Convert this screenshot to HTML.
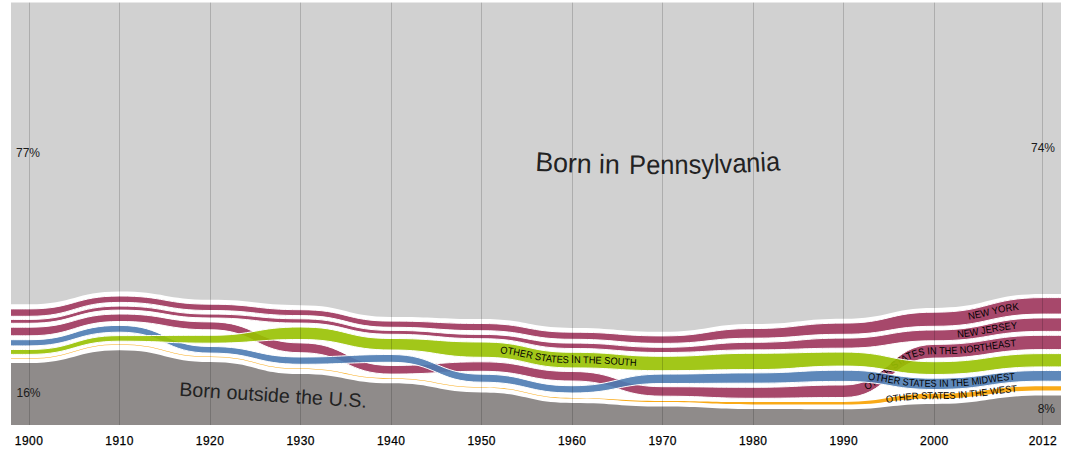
<!DOCTYPE html>
<html><head><meta charset="utf-8"><style>
html,body{margin:0;padding:0;background:#fff;}
body{width:1066px;height:458px;overflow:hidden;}
svg{display:block;font-family:"Liberation Sans",sans-serif;}
</style></head><body>
<svg width="1066" height="458" viewBox="0 0 1066 458">
<defs><path id="lpNY" d="M968.70,319.82 L969.83,319.63 L971.42,319.36 L972.98,319.07 L974.51,318.78 L976.00,318.47 L977.47,318.17 L978.91,317.85 L980.33,317.53 L981.73,317.21 L983.12,316.88 L984.50,316.55 L985.87,316.22 L987.23,315.88 L988.59,315.55 L989.94,315.22 L991.31,314.88 L992.67,314.55 L994.05,314.22 L995.44,313.89 L996.84,313.57 L998.26,313.25 L999.71,312.93 L1001.17,312.63 L1002.67,312.32 L1004.19,312.03 L1005.75,311.74 L1007.34,311.47 L1008.97,311.20 L1010.65,310.94 L1012.37,310.70 L1014.14,310.46 L1015.96,310.24 L1017.83,310.04 L1019.12,309.91"/>
<path id="lpNJ" d="M957.50,337.60 L959.34,337.45 L961.21,337.28 L963.03,337.10 L964.80,336.92 L966.52,336.72 L968.20,336.51 L969.83,336.30 L971.42,336.08 L972.98,335.85 L974.51,335.61 L976.00,335.37 L977.47,335.12 L978.91,334.87 L980.33,334.62 L981.73,334.36 L983.12,334.09 L984.50,333.83 L985.87,333.56 L987.23,333.29 L988.59,333.02 L989.94,332.76 L991.31,332.49 L992.67,332.22 L994.05,331.96 L995.44,331.69 L996.84,331.43 L998.26,331.18 L999.71,330.93 L1001.17,330.68 L1002.67,330.44 L1004.19,330.20 L1005.75,329.97 L1007.34,329.75 L1008.97,329.54 L1010.65,329.33 L1012.37,329.13 L1014.14,328.95 L1015.96,328.77 L1017.41,328.64"/>
<path id="lpNE" d="M866.35,390.03 L867.72,389.43 L869.20,388.73 L870.63,388.00 L872.03,387.23 L873.39,386.44 L874.72,385.61 L876.01,384.76 L877.28,383.88 L878.53,382.98 L879.75,382.06 L880.95,381.12 L882.14,380.17 L883.31,379.20 L884.46,378.23 L885.61,377.24 L886.75,376.25 L887.89,375.25 L889.02,374.25 L890.15,373.25 L891.28,372.25 L892.42,371.26 L893.57,370.27 L894.73,369.30 L895.90,368.33 L897.08,367.38 L898.28,366.44 L899.51,365.52 L900.75,364.62 L902.02,363.74 L903.32,362.89 L904.65,362.06 L906.01,361.27 L907.40,360.50 L908.84,359.77 L910.31,359.07 L911.83,358.41 L913.39,357.79 L915.00,357.21 L916.66,356.68 L918.37,356.19 L920.14,355.76 L921.97,355.37 L923.85,355.04 L925.80,354.76 L927.82,354.54 L929.90,354.38 L932.05,354.28 L934.28,354.25 L936.95,354.24 L939.53,354.22 L942.03,354.19 L944.45,354.14 L946.78,354.08 L949.05,354.00 L951.24,353.92 L953.36,353.82 L955.42,353.72 L957.41,353.60 L959.34,353.47 L961.21,353.33 L963.03,353.19 L964.80,353.04 L966.52,352.88 L968.20,352.71 L969.83,352.53 L971.42,352.35 L972.98,352.16 L974.51,351.97 L976.00,351.77 L977.47,351.57 L978.91,351.36 L980.33,351.15 L981.73,350.94 L983.12,350.72 L984.50,350.51 L985.87,350.29 L987.23,350.07 L988.59,349.85 L989.94,349.63 L991.31,349.41 L992.67,349.19 L994.05,348.98 L995.44,348.76 L996.84,348.55 L998.26,348.34 L999.71,348.13 L1001.17,347.93 L1002.67,347.73 L1004.19,347.54 L1005.75,347.35 L1007.34,347.17 L1008.97,346.99 L1010.65,346.83 L1012.37,346.66 L1014.14,346.51 L1015.96,346.37 L1016.39,346.33"/>
<path id="lpW" d="M886.55,403.09 L886.75,403.05 L887.89,402.88 L889.02,402.70 L890.15,402.52 L891.28,402.35 L892.42,402.17 L893.57,401.99 L894.73,401.82 L895.90,401.65 L897.08,401.48 L898.28,401.31 L899.51,401.15 L900.75,400.99 L902.02,400.84 L903.32,400.68 L904.65,400.54 L906.01,400.40 L907.40,400.26 L908.84,400.13 L910.31,400.01 L911.83,399.89 L913.39,399.78 L915.00,399.68 L916.66,399.58 L918.37,399.50 L920.14,399.42 L921.97,399.35 L923.85,399.29 L925.80,399.24 L927.82,399.20 L929.90,399.17 L932.05,399.16 L934.28,399.15 L936.95,399.14 L939.53,399.12 L942.03,399.09 L944.45,399.05 L946.78,399.00 L949.05,398.93 L951.24,398.85 L953.36,398.77 L955.42,398.67 L957.41,398.57 L959.34,398.46 L961.21,398.33 L963.03,398.20 L964.80,398.07 L966.52,397.92 L968.20,397.77 L969.83,397.62 L971.42,397.45 L972.98,397.29 L974.51,397.11 L976.00,396.94 L977.47,396.76 L978.91,396.57 L980.33,396.39 L981.73,396.20 L983.12,396.01 L984.50,395.81 L985.87,395.62 L987.23,395.42 L988.59,395.22 L989.94,395.03 L991.31,394.83 L992.67,394.64 L994.05,394.44 L995.44,394.25 L996.84,394.06 L998.26,393.88 L999.71,393.69 L1001.17,393.51 L1002.67,393.34 L1004.19,393.16 L1005.75,393.00 L1007.34,392.83 L1008.97,392.68 L1010.65,392.53 L1012.37,392.38 L1014.14,392.25 L1015.96,392.12 L1017.18,392.04"/>
<path id="lpMW" d="M867.85,379.78 L869.20,379.91 L870.63,380.06 L872.03,380.21 L873.39,380.37 L874.72,380.54 L876.01,380.71 L877.28,380.89 L878.53,381.07 L879.75,381.25 L880.95,381.44 L882.14,381.63 L883.31,381.83 L884.46,382.02 L885.61,382.22 L886.75,382.42 L887.89,382.62 L889.02,382.82 L890.15,383.03 L891.28,383.23 L892.42,383.43 L893.57,383.63 L894.73,383.82 L895.90,384.02 L897.08,384.21 L898.28,384.40 L899.51,384.58 L900.75,384.76 L902.02,384.94 L903.32,385.11 L904.65,385.28 L906.01,385.44 L907.40,385.59 L908.84,385.74 L910.31,385.88 L911.83,386.01 L913.39,386.14 L915.00,386.25 L916.66,386.36 L918.37,386.46 L920.14,386.55 L921.97,386.62 L923.85,386.69 L925.80,386.75 L927.82,386.79 L929.90,386.82 L932.05,386.84 L934.28,386.85 L936.95,386.84 L939.53,386.82 L942.03,386.79 L944.45,386.75 L946.78,386.69 L949.05,386.63 L951.24,386.55 L953.36,386.46 L955.42,386.36 L957.41,386.26 L959.34,386.14 L961.21,386.02 L963.03,385.89 L964.80,385.75 L966.52,385.60 L968.20,385.45 L969.83,385.29 L971.42,385.12 L972.98,384.95 L974.51,384.78 L976.00,384.60 L977.47,384.41 L978.91,384.22 L980.33,384.03 L981.73,383.84 L983.12,383.65 L984.50,383.45 L985.87,383.25 L987.23,383.05 L988.59,382.85 L989.94,382.65 L991.31,382.45 L992.67,382.25 L994.05,382.05 L995.44,381.86 L996.84,381.67 L998.26,381.48 L999.71,381.29 L1001.17,381.10 L1002.67,380.92 L1004.19,380.75 L1005.75,380.58 L1007.34,380.41 L1008.97,380.25 L1010.65,380.10 L1012.37,379.95 L1014.14,379.81 L1015.20,379.74"/>
<path id="lpS" d="M500.05,353.35 L500.97,353.42 L502.58,353.57 L504.14,353.74 L505.65,353.91 L507.13,354.09 L508.56,354.28 L509.96,354.48 L511.32,354.69 L512.65,354.91 L513.94,355.13 L515.21,355.36 L516.46,355.59 L517.68,355.83 L518.88,356.08 L520.07,356.33 L521.24,356.58 L522.40,356.84 L523.54,357.09 L524.68,357.35 L525.82,357.61 L526.95,357.88 L528.08,358.14 L529.21,358.40 L530.35,358.66 L531.50,358.91 L532.66,359.17 L533.83,359.42 L535.01,359.67 L536.21,359.92 L537.44,360.16 L538.68,360.39 L539.95,360.62 L541.25,360.84 L542.58,361.06 L543.94,361.27 L545.33,361.47 L546.77,361.66 L548.24,361.84 L549.76,362.01 L551.32,362.18 L552.93,362.33 L554.59,362.47 L556.30,362.59 L558.07,362.71 L559.90,362.81 L561.78,362.89 L563.73,362.97 L565.75,363.02 L567.83,363.07 L569.98,363.09 L572.21,363.10 L574.43,363.10 L576.59,363.11 L578.67,363.12 L580.68,363.14 L582.63,363.17 L584.52,363.20 L586.34,363.23 L588.11,363.27 L589.82,363.31 L591.48,363.35 L593.09,363.40 L594.66,363.45 L596.17,363.51 L597.65,363.57 L599.08,363.63 L600.48,363.70 L601.84,363.76 L603.16,363.83 L604.46,363.91 L605.73,363.98 L606.98,364.06 L608.20,364.14 L609.40,364.22 L610.59,364.30 L611.76,364.38 L612.91,364.46 L614.06,364.55 L615.20,364.63 L616.33,364.72 L617.47,364.80 L618.60,364.88 L619.73,364.97 L620.87,365.05 L622.02,365.14 L623.18,365.22 L624.34,365.30 L625.53,365.38 L626.73,365.46 L627.95,365.54 L629.20,365.62 L630.47,365.69 L631.77,365.77 L633.10,365.84 L634.46,365.90 L635.85,365.97 L636.40,365.99"/>
<clipPath id="chartclip"><rect x="11" y="0" width="1050" height="458"/></clipPath>
<path id="pPA" d="M535,170.6 C600,175 710,175.5 783,170.2"/>
</defs>
<g clip-path="url(#chartclip)"><path d="M11,2.60 L1061,2.60 L1061.00,293.90 C1051.95,293.90 1051.95,293.90 1042.90,293.90 C988.59,293.90 988.59,307.90 934.28,307.90 C889.02,307.90 889.02,318.70 843.76,318.70 C798.50,318.70 798.50,324.00 753.24,324.00 C707.98,324.00 707.98,331.80 662.72,331.80 C617.47,331.80 617.47,327.90 572.21,327.90 C526.95,327.90 526.95,319.00 481.69,319.00 C436.43,319.00 436.43,316.90 391.17,316.90 C345.91,316.90 345.91,305.20 300.66,305.20 C255.40,305.20 255.40,299.80 210.14,299.80 C164.88,299.80 164.88,291.50 119.62,291.50 C74.36,291.50 74.36,304.30 29.10,304.30 C20.05,304.30 20.05,304.30 11.00,304.30 Z" fill="#d1d1d1"/>
<path d="M11.00,363.00 C20.05,363.00 20.05,363.00 29.10,363.00 C74.36,363.00 74.36,350.20 119.62,350.20 C164.88,350.20 164.88,362.00 210.14,362.00 C255.40,362.00 255.40,374.00 300.66,374.00 C345.91,374.00 345.91,383.30 391.17,383.30 C436.43,383.30 436.43,392.40 481.69,392.40 C526.95,392.40 526.95,402.90 572.21,402.90 C617.47,402.90 617.47,406.50 662.72,406.50 C707.98,406.50 707.98,409.00 753.24,409.00 C798.50,409.00 798.50,409.20 843.76,409.20 C889.02,409.20 889.02,404.00 934.28,404.00 C988.59,404.00 988.59,395.60 1042.90,395.60 C1051.95,395.60 1051.95,395.60 1061.00,395.60 L1061,425 L11,425 Z" fill="#8f8b8a"/>
<path d="M7.00,308.90 C18.05,308.90 18.05,308.90 29.10,308.90 C74.36,308.90 74.36,296.00 119.62,296.00 C164.88,296.00 164.88,304.20 210.14,304.20 C255.40,304.20 255.40,309.70 300.66,309.70 C345.91,309.70 345.91,321.10 391.17,321.10 C436.43,321.10 436.43,323.50 481.69,323.50 C526.95,323.50 526.95,332.20 572.21,332.20 C617.47,332.20 617.47,335.90 662.72,335.90 C707.98,335.90 707.98,328.50 753.24,328.50 C798.50,328.50 798.50,323.10 843.76,323.10 C889.02,323.10 889.02,312.20 934.28,312.20 C988.59,312.20 988.59,297.60 1042.90,297.60 C1053.95,297.60 1053.95,297.60 1065.00,297.60 L1065.00,314.10 C1053.95,314.10 1053.95,314.10 1042.90,314.10 C988.59,314.10 988.59,326.30 934.28,326.30 C889.02,326.30 889.02,334.30 843.76,334.30 C798.50,334.30 798.50,338.20 753.24,338.20 C707.98,338.20 707.98,343.40 662.72,343.40 C617.47,343.40 617.47,339.30 572.21,339.30 C526.95,339.30 526.95,330.70 481.69,330.70 C436.43,330.70 436.43,327.30 391.17,327.30 C345.91,327.30 345.91,315.60 300.66,315.60 C255.40,315.60 255.40,310.50 210.14,310.50 C164.88,310.50 164.88,302.40 119.62,302.40 C74.36,302.40 74.36,316.30 29.10,316.30 C18.05,316.30 18.05,316.30 7.00,316.30 Z" fill="#a7486b" fill-opacity="1" stroke="#fff" stroke-width="1"/>
<text font-size="10.0" fill="#000"><textPath href="#lpNY" textLength="51.4" lengthAdjust="spacingAndGlyphs">NEW YORK</textPath></text>
<path d="M7.00,319.40 C18.05,319.40 18.05,319.40 29.10,319.40 C74.36,319.40 74.36,306.10 119.62,306.10 C164.88,306.10 164.88,314.10 210.14,314.10 C255.40,314.10 255.40,318.80 300.66,318.80 C345.91,318.80 345.91,330.40 391.17,330.40 C436.43,330.40 436.43,334.40 481.69,334.40 C526.95,334.40 526.95,343.10 572.21,343.10 C617.47,343.10 617.47,347.30 662.72,347.30 C707.98,347.30 707.98,342.30 753.24,342.30 C798.50,342.30 798.50,338.10 843.76,338.10 C889.02,338.10 889.02,330.00 934.28,330.00 C988.59,330.00 988.59,317.90 1042.90,317.90 C1053.95,317.90 1053.95,317.90 1065.00,317.90 L1065.00,331.40 C1053.95,331.40 1053.95,331.40 1042.90,331.40 C988.59,331.40 988.59,340.80 934.28,340.80 C889.02,340.80 889.02,348.20 843.76,348.20 C798.50,348.20 798.50,349.90 753.24,349.90 C707.98,349.90 707.98,352.50 662.72,352.50 C617.47,352.50 617.47,348.50 572.21,348.50 C526.95,348.50 526.95,338.70 481.69,338.70 C436.43,338.70 436.43,334.30 391.17,334.30 C345.91,334.30 345.91,323.10 300.66,323.10 C255.40,323.10 255.40,318.00 210.14,318.00 C164.88,318.00 164.88,310.10 119.62,310.10 C74.36,310.10 74.36,323.30 29.10,323.30 C18.05,323.30 18.05,323.30 7.00,323.30 Z" fill="#a7486b" fill-opacity="1" stroke="#fff" stroke-width="1"/>
<text font-size="10.0" fill="#000"><textPath href="#lpNJ" textLength="60.6" lengthAdjust="spacingAndGlyphs">NEW JERSEY</textPath></text>
<path d="M7.00,327.20 C18.05,327.20 18.05,327.20 29.10,327.20 C74.36,327.20 74.36,314.00 119.62,314.00 C164.88,314.00 164.88,321.90 210.14,321.90 C255.40,321.90 255.40,342.90 300.66,342.90 C345.91,342.90 345.91,365.50 391.17,365.50 C436.43,365.50 436.43,361.80 481.69,361.80 C526.95,361.80 526.95,371.50 572.21,371.50 C617.47,371.50 617.47,386.70 662.72,386.70 C707.98,386.70 707.98,387.30 753.24,387.30 C798.50,387.30 798.50,385.00 843.76,385.00 C889.02,385.00 889.02,344.40 934.28,344.40 C988.59,344.40 988.59,335.30 1042.90,335.30 C1053.95,335.30 1053.95,335.30 1065.00,335.30 L1065.00,349.60 C1053.95,349.60 1053.95,349.60 1042.90,349.60 C988.59,349.60 988.59,358.10 934.28,358.10 C889.02,358.10 889.02,397.50 843.76,397.50 C798.50,397.50 798.50,398.30 753.24,398.30 C707.98,398.30 707.98,396.20 662.72,396.20 C617.47,396.20 617.47,381.00 572.21,381.00 C526.95,381.00 526.95,371.30 481.69,371.30 C436.43,371.30 436.43,374.10 391.17,374.10 C345.91,374.10 345.91,352.70 300.66,352.70 C255.40,352.70 255.40,329.80 210.14,329.80 C164.88,329.80 164.88,321.50 119.62,321.50 C74.36,321.50 74.36,335.80 29.10,335.80 C18.05,335.80 18.05,335.80 7.00,335.80 Z" fill="#a7486b" fill-opacity="1" stroke="#fff" stroke-width="1"/>
<text font-size="10.0" fill="#000"><textPath href="#lpNE" textLength="161.2" lengthAdjust="spacingAndGlyphs">OTHER STATES IN THE NORTHEAST</textPath></text>
<path d="M7.00,358.30 C18.05,358.30 18.05,358.30 29.10,358.30 C74.36,358.30 74.36,344.30 119.62,344.30 C164.88,344.30 164.88,356.60 210.14,356.60 C255.40,356.60 255.40,368.60 300.66,368.60 C345.91,368.60 345.91,378.30 391.17,378.30 C436.43,378.30 436.43,387.15 481.69,387.15 C526.95,387.15 526.95,397.90 572.21,397.90 C617.47,397.90 617.47,400.90 662.72,400.90 C707.98,400.90 707.98,402.10 753.24,402.10 C798.50,402.10 798.50,401.90 843.76,401.90 C889.02,401.90 889.02,393.80 934.28,393.80 C988.59,393.80 988.59,386.20 1042.90,386.20 C1053.95,386.20 1053.95,386.20 1065.00,386.20 L1065.00,390.40 C1053.95,390.40 1053.95,390.40 1042.90,390.40 C988.59,390.40 988.59,398.50 934.28,398.50 C889.02,398.50 889.02,404.60 843.76,404.60 C798.50,404.60 798.50,404.50 753.24,404.50 C707.98,404.50 707.98,402.10 662.72,402.10 C617.47,402.10 617.47,398.50 572.21,398.50 C526.95,398.50 526.95,387.65 481.69,387.65 C436.43,387.65 436.43,378.75 391.17,378.75 C345.91,378.75 345.91,369.00 300.66,369.00 C255.40,369.00 255.40,357.00 210.14,357.00 C164.88,357.00 164.88,344.70 119.62,344.70 C74.36,344.70 74.36,358.70 29.10,358.70 C18.05,358.70 18.05,358.70 7.00,358.70 Z" fill="#f9aa18"/>
<text font-size="10.0" fill="#000"><textPath href="#lpW" textLength="131.2" lengthAdjust="spacingAndGlyphs">OTHER STATES IN THE WEST</textPath></text>
<path d="M7.00,339.70 C18.05,339.70 18.05,339.70 29.10,339.70 C74.36,339.70 74.36,325.40 119.62,325.40 C164.88,325.40 164.88,346.50 210.14,346.50 C255.40,346.50 255.40,357.00 300.66,357.00 C345.91,357.00 345.91,354.50 391.17,354.50 C436.43,354.50 436.43,374.20 481.69,374.20 C526.95,374.20 526.95,385.70 572.21,385.70 C617.47,385.70 617.47,374.10 662.72,374.10 C707.98,374.10 707.98,372.90 753.24,372.90 C798.50,372.90 798.50,370.20 843.76,370.20 C889.02,370.20 889.02,378.20 934.28,378.20 C988.59,378.20 988.59,370.50 1042.90,370.50 C1053.95,370.50 1053.95,370.50 1065.00,370.50 L1065.00,381.20 C1053.95,381.20 1053.95,381.20 1042.90,381.20 C988.59,381.20 988.59,389.50 934.28,389.50 C889.02,389.50 889.02,381.40 843.76,381.40 C798.50,381.40 798.50,383.20 753.24,383.20 C707.98,383.20 707.98,383.50 662.72,383.50 C617.47,383.50 617.47,393.00 572.21,393.00 C526.95,393.00 526.95,382.20 481.69,382.20 C436.43,382.20 436.43,362.30 391.17,362.30 C345.91,362.30 345.91,364.30 300.66,364.30 C255.40,364.30 255.40,353.10 210.14,353.10 C164.88,353.10 164.88,332.20 119.62,332.20 C74.36,332.20 74.36,345.90 29.10,345.90 C18.05,345.90 18.05,345.90 7.00,345.90 Z" fill="#4c7bb2" fill-opacity="0.9" stroke="#fff" stroke-width="1"/>
<text font-size="10.0" fill="#000"><textPath href="#lpMW" textLength="148.2" lengthAdjust="spacingAndGlyphs">OTHER STATES IN THE MIDWEST</textPath></text>
<path d="M7.00,349.50 C18.05,349.50 18.05,349.50 29.10,349.50 C74.36,349.50 74.36,335.60 119.62,335.60 C164.88,335.60 164.88,335.30 210.14,335.30 C255.40,335.30 255.40,327.00 300.66,327.00 C345.91,327.00 345.91,338.50 391.17,338.50 C436.43,338.50 436.43,342.00 481.69,342.00 C526.95,342.00 526.95,352.30 572.21,352.30 C617.47,352.30 617.47,356.30 662.72,356.30 C707.98,356.30 707.98,353.30 753.24,353.30 C798.50,353.30 798.50,352.10 843.76,352.10 C889.02,352.10 889.02,361.70 934.28,361.70 C988.59,361.70 988.59,353.60 1042.90,353.60 C1053.95,353.60 1053.95,353.60 1065.00,353.60 L1065.00,366.90 C1053.95,366.90 1053.95,366.90 1042.90,366.90 C988.59,366.90 988.59,374.50 934.28,374.50 C889.02,374.50 889.02,366.10 843.76,366.10 C798.50,366.10 798.50,369.60 753.24,369.60 C707.98,369.60 707.98,370.70 662.72,370.70 C617.47,370.70 617.47,367.90 572.21,367.90 C526.95,367.90 526.95,357.30 481.69,357.30 C436.43,357.30 436.43,350.00 391.17,350.00 C345.91,350.00 345.91,339.50 300.66,339.50 C255.40,339.50 255.40,343.20 210.14,343.20 C164.88,343.20 164.88,341.20 119.62,341.20 C74.36,341.20 74.36,354.40 29.10,354.40 C18.05,354.40 18.05,354.40 7.00,354.40 Z" fill="#98c100" fill-opacity="0.9" stroke="#fff" stroke-width="1"/>
<text font-size="10.0" fill="#000"><textPath href="#lpS" textLength="137.3" lengthAdjust="spacingAndGlyphs">OTHER STATES IN THE SOUTH</textPath></text></g>
<g font-size="12" fill="#1a1a1a">
<text x="16" y="156.5">77%</text>
<text x="16.5" y="396.7">16%</text>
<text x="1055" y="151.7" text-anchor="end">74%</text>
<text x="1055" y="412.8" text-anchor="end">8%</text>
</g>
<text font-size="27" fill="#222"><textPath href="#pPA" textLength="85" lengthAdjust="spacingAndGlyphs">Born in</textPath></text>
<text font-size="27" fill="#222"><textPath href="#pPA" startOffset="94.3" textLength="151.3" lengthAdjust="spacingAndGlyphs">Pennsylvania</textPath></text>
<text font-size="19.6" fill="#222" word-spacing="0.5" transform="translate(179,395.7) rotate(3.7)">Born outside the U.S.</text>
<rect x="29" y="2.60" width="1" height="422.40" fill="#000" fill-opacity="0.17"/><rect x="119" y="2.60" width="1" height="422.40" fill="#000" fill-opacity="0.17"/><rect x="210" y="2.60" width="1" height="422.40" fill="#000" fill-opacity="0.17"/><rect x="300" y="2.60" width="1" height="422.40" fill="#000" fill-opacity="0.17"/><rect x="391" y="2.60" width="1" height="422.40" fill="#000" fill-opacity="0.17"/><rect x="481" y="2.60" width="1" height="422.40" fill="#000" fill-opacity="0.17"/><rect x="572" y="2.60" width="1" height="422.40" fill="#000" fill-opacity="0.17"/><rect x="662" y="2.60" width="1" height="422.40" fill="#000" fill-opacity="0.17"/><rect x="753" y="2.60" width="1" height="422.40" fill="#000" fill-opacity="0.17"/><rect x="843" y="2.60" width="1" height="422.40" fill="#000" fill-opacity="0.17"/><rect x="934" y="2.60" width="1" height="422.40" fill="#000" fill-opacity="0.17"/><rect x="1042" y="2.60" width="1" height="422.40" fill="#000" fill-opacity="0.17"/>
<g font-size="12" fill="#000" letter-spacing="0.45" stroke="#000" stroke-width="0.25"><text x="29.1" y="445" text-anchor="middle">1900</text><text x="119.6" y="445" text-anchor="middle">1910</text><text x="210.1" y="445" text-anchor="middle">1920</text><text x="300.7" y="445" text-anchor="middle">1930</text><text x="391.2" y="445" text-anchor="middle">1940</text><text x="481.7" y="445" text-anchor="middle">1950</text><text x="572.2" y="445" text-anchor="middle">1960</text><text x="662.7" y="445" text-anchor="middle">1970</text><text x="753.2" y="445" text-anchor="middle">1980</text><text x="843.8" y="445" text-anchor="middle">1990</text><text x="934.3" y="445" text-anchor="middle">2000</text><text x="1042.9" y="445" text-anchor="middle">2012</text></g>
</svg>
</body></html>
